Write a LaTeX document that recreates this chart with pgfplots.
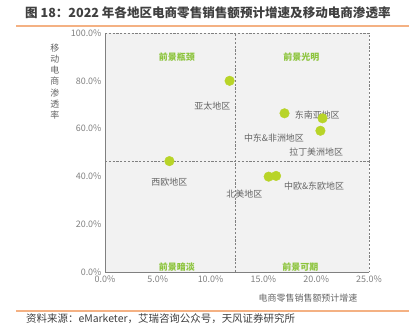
\documentclass[border=0pt]{standalone}
\usepackage{pgfplots}
\pgfplotsset{compat=1.18}
\usepackage{fontspec}
\setmainfont{Noto Sans CJK SC}
\definecolor{ptgreen}{RGB}{184,212,40}
\definecolor{qgreen}{RGB}{140,196,60}
\definecolor{tickgray}{RGB}{128,128,128}
\definecolor{txtgray}{RGB}{100,100,100}
\definecolor{titlegray}{RGB}{64,64,64}
\definecolor{orangeline}{RGB}{244,177,131}
\definecolor{bggray}{RGB}{242,242,242}
\begin{document}
\begin{tikzpicture}[x=1bp,y=1bp]
\useasboundingbox (0,0) rectangle (415,325);
\node[anchor=west, font=\fontsize{12.6}{15}\selectfont\bfseries, text=titlegray, inner sep=0] at (25,312) {图 18：2022 年各地区电商零售销售额预计增速及移动电商渗透率};
\draw[orangeline, line width=1.2bp] (16,299) -- (409,299);
\draw[orangeline, line width=1.2bp] (16,14) -- (409,14);
\node[anchor=west, font=\fontsize{10.5}{12}\selectfont, text=titlegray, inner sep=0] at (26,6.5) {资料来源：eMarketer，艾瑞咨询公众号，天风证券研究所};
\begin{axis}[
  at={(105bp,53bp)}, anchor=origin,
  scale only axis, width=264bp, height=239bp,
  xmin=0, xmax=25, ymin=0, ymax=100,
  xtick={0,5,10,15,20,25}, ytick={0,20,40,60,80,100},
  xticklabel={\pgfmathprintnumber[fixed,fixed zerofill,precision=1]{\tick}\%},
  yticklabel={\pgfmathprintnumber[fixed,fixed zerofill,precision=1]{\tick}\%},
  /pgf/number format/assume math mode=true,
  ticklabel style={font=\fontsize{9}{10}\selectfont, text=tickgray},
  major tick length=0pt,
  axis lines*=left,
  axis line style={-, draw=tickgray, line width=0.8bp},
  axis background/.style={fill=bggray},
  xlabel={电商零售销售额预计增速},
  xlabel style={at={(rel axis cs:0.769,-0.109)}, anchor=center, font=\fontsize{9}{10}\selectfont, text=txtgray},
  ylabel={\shortstack{移\\动\\电\\商\\渗\\透\\率}},
  ylabel style={at={(rel axis cs:-0.19,0.797)}, rotate=-90, anchor=center, font=\fontsize{9}{10}\selectfont, text=txtgray},
  clip=false,
]
\draw[dash pattern=on 2.2bp off 1.6bp, draw=gray, line width=0.7bp] (axis cs:0,100) -- (axis cs:25,100) -- (axis cs:25,0);
\draw[dash pattern=on 2.2bp off 1.6bp, draw=gray, line width=0.7bp] (axis cs:12.3,0) -- (axis cs:12.3,100);
\draw[dash pattern=on 2.2bp off 1.6bp, draw=gray, line width=0.7bp] (axis cs:0,46.2) -- (axis cs:25,46.2);
\addplot[only marks, mark=*, mark size=4.8bp, mark options={fill=ptgreen, draw=ptgreen}] coordinates {
  (11.8,80.0) (6.1,46.4) (17.0,66.4) (20.6,64.3) (20.4,59.1) (15.5,39.9) (16.2,40.2)
};
\begin{scope}[every node/.style={font=\fontsize{9}{10}\selectfont, text=txtgray, inner sep=0}]
\node at (axis cs:10.16,69.5) {亚太地区};
\node at (axis cs:20.1,65.7) {东南亚地区};
\node at (axis cs:16.0,56.2) {中东\&非洲地区};
\node at (axis cs:20.0,50.1) {拉丁美洲地区};
\node at (axis cs:6.1,37.8) {西欧地区};
\node at (axis cs:13.2,32.5) {北美地区};
\node at (axis cs:19.8,36.1) {中欧\&东欧地区};
\end{scope}
\begin{scope}[every node/.style={font=\fontsize{9}{10}\selectfont\bfseries, text=qgreen, inner sep=0}]
\node at (axis cs:6.8,89.8) {前景瓶颈};
\node at (axis cs:18.6,89.8) {前景光明};
\node at (axis cs:6.8,2.0) {前景暗淡};
\node at (axis cs:18.5,2.0) {前景可期};
\end{scope}
\end{axis}
\end{tikzpicture}
\end{document}
